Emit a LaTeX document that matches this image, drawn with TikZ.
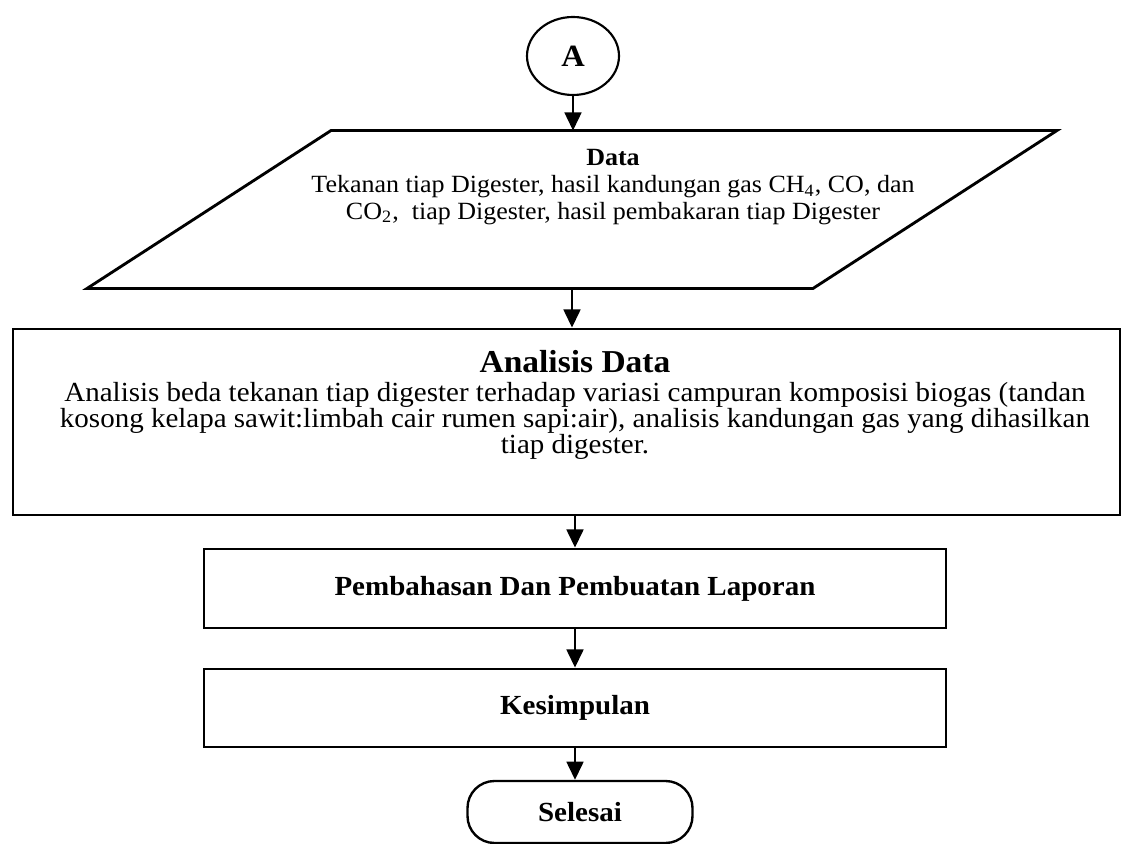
\documentclass[tikz,border=0pt]{standalone}
\usepackage{fontspec}
\setmainfont{Liberation Serif}[FakeStretch=1.05]
\usepackage{tikz}
\usetikzlibrary{shapes.geometric,arrows.meta}
\newcommand{\pxl}{0.42pt}

\begin{document}
\begin{tikzpicture}[x=0.42pt,y=-0.42pt,
          box/.style={draw,line width=1.2pt,rectangle,inner sep=0pt},
          flow/.style={-{Triangle[length=7.6pt,width=7.1pt]},line width=0.85pt},
          body/.style={align=center,font=\fontsize{11.6}{10.9}\selectfont},
          title/.style={font=\bfseries\fontsize{11.6}{10.5}\selectfont}]

          \useasboundingbox (0,0) rectangle (1121,844);

          \node[draw,ellipse,line width=0.9pt,inner sep=0pt,minimum width=92*\pxl,minimum height=78*\pxl,title,font=\bfseries\fontsize{13}{13}\selectfont] (a) at (573, 56) {A};

          \node[inner sep=0pt,minimum width=725*\pxl,minimum height=157*\pxl] (data) at (572, 209.5) {};
          \draw[line width=1.2pt] ([xshift=122*\pxl]data.north west) -- ([xshift=122*\pxl]data.north east)
            -- ([xshift=-122*\pxl]data.south east) -- ([xshift=-122*\pxl]data.south west) -- cycle;
          \node[align=center,font=\fontsize{10.4}{11.2}\selectfont] (datatext) at (613, 187)
            {\textbf{Data}\\Tekanan tiap Digester, hasil kandungan gas CH\textsubscript{4}, CO, dan\\CO\textsubscript{2},\ \ tiap Digester, hasil pembakaran tiap Digester};

          \node[box,minimum width=1107*\pxl,minimum height=186*\pxl] (analisis) at (566.5, 422) {};
          \node[body] (analisistext) at (575, 405)
            {\textbf{\fontsize{13.4}{11}\selectfont Analisis Data}\\[1.5pt]Analisis beda tekanan tiap digester terhadap variasi campuran komposisi biogas (tandan\\kosong kelapa sawit:limbah cair rumen sapi:air), analisis kandungan gas yang dihasilkan\\tiap digester.};

          \node[box,title,minimum width=742*\pxl,minimum height=79*\pxl] (bahas) at (575, 588.5) {Pembahasan Dan Pembuatan Laporan};
          \node[box,title,minimum width=742*\pxl,minimum height=78*\pxl] (simpul) at (575, 708) {Kesimpulan};
          \node[draw,line width=1pt,rounded corners=27*\pxl,inner sep=0pt,minimum width=225*\pxl,minimum height=62*\pxl,title] (selesai) at (580, 812) {Selesai};

          \draw[flow] (a.south) -- (a.south |- data.north);
          \draw[flow] (data.south) -- (data.south |- analisis.north);
          \draw[flow] (analisis.south -| bahas.north) -- (bahas.north);
          \draw[flow] (bahas) -- (simpul);
          \draw[flow] (simpul.south) -- (simpul.south |- selesai.north);
        \end{tikzpicture}
\end{document}
